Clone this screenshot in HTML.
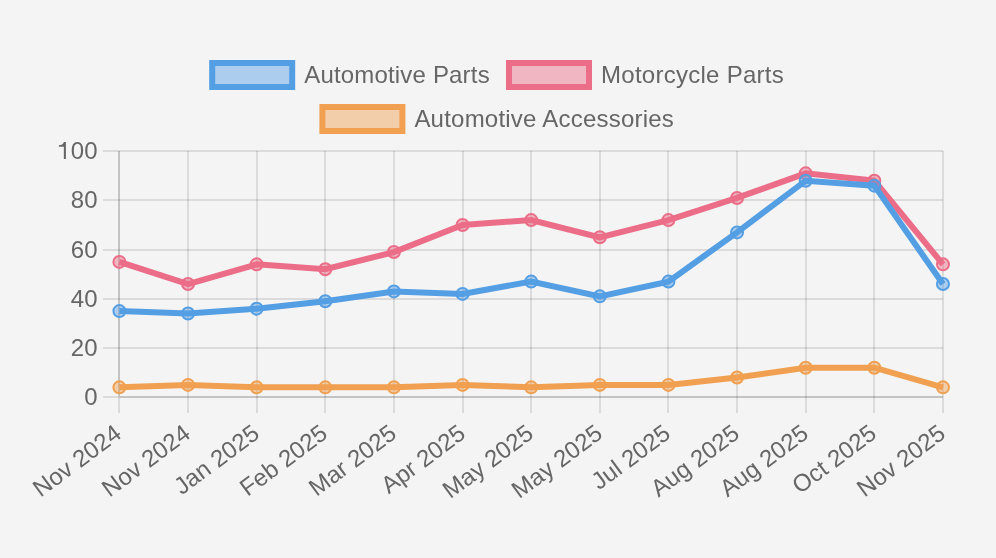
<!DOCTYPE html><html><head><meta charset="utf-8"><style>html,body{margin:0;padding:0;background:#f4f4f4;}svg{display:block;will-change:transform}text{font-family:"Liberation Sans",sans-serif;fill:#666;font-size:24px}</style></head><body>
<svg width="996" height="558" viewBox="0 0 996 558">
<rect width="996" height="558" fill="#f4f4f4"/>
<rect x="103" y="396" width="840" height="2" fill="rgba(0,0,0,0.1)"/>
<rect x="103" y="347" width="840" height="2" fill="rgba(0,0,0,0.1)"/>
<rect x="103" y="298" width="840" height="2" fill="rgba(0,0,0,0.1)"/>
<rect x="103" y="249" width="840" height="2" fill="rgba(0,0,0,0.1)"/>
<rect x="103" y="199" width="840" height="2" fill="rgba(0,0,0,0.1)"/>
<rect x="103" y="150" width="840" height="2" fill="rgba(0,0,0,0.1)"/>
<rect x="118" y="151" width="2" height="262" fill="rgba(0,0,0,0.1)"/>
<rect x="187" y="151" width="2" height="262" fill="rgba(0,0,0,0.1)"/>
<rect x="256" y="151" width="2" height="262" fill="rgba(0,0,0,0.1)"/>
<rect x="324" y="151" width="2" height="262" fill="rgba(0,0,0,0.1)"/>
<rect x="393" y="151" width="2" height="262" fill="rgba(0,0,0,0.1)"/>
<rect x="462" y="151" width="2" height="262" fill="rgba(0,0,0,0.1)"/>
<rect x="530" y="151" width="2" height="262" fill="rgba(0,0,0,0.1)"/>
<rect x="599" y="151" width="2" height="262" fill="rgba(0,0,0,0.1)"/>
<rect x="667" y="151" width="2" height="262" fill="rgba(0,0,0,0.1)"/>
<rect x="736" y="151" width="2" height="262" fill="rgba(0,0,0,0.1)"/>
<rect x="805" y="151" width="2" height="262" fill="rgba(0,0,0,0.1)"/>
<rect x="873" y="151" width="2" height="262" fill="rgba(0,0,0,0.1)"/>
<rect x="942" y="151" width="2" height="262" fill="rgba(0,0,0,0.1)"/>
<rect x="118" y="151" width="2" height="245" fill="rgba(0,0,0,0.1)"/>
<rect x="120" y="396" width="823" height="2" fill="rgba(0,0,0,0.1)"/>
<text x="97.5" y="404.60" text-anchor="end">0</text>
<text x="97.5" y="355.60" text-anchor="end">20</text>
<text x="97.5" y="306.60" text-anchor="end">40</text>
<text x="97.5" y="257.60" text-anchor="end">60</text>
<text x="97.5" y="207.60" text-anchor="end">80</text>
<text x="97.5" y="158.60" text-anchor="end">00</text>
<path d="M65.9 142 L65.9 158.9 L63.85 158.9 L63.85 146.7 L58.9 146.7 L58.9 145.2 C61.4 145.2 63.3 144.2 63.85 142 Z" fill="#666"/>
<text transform="translate(118.30 430.20) rotate(-36.5)" x="0" y="8" text-anchor="end">Nov 2024</text>
<text transform="translate(187.30 430.20) rotate(-36.5)" x="0" y="8" text-anchor="end">Nov 2024</text>
<text transform="translate(256.30 430.20) rotate(-36.5)" x="0" y="8" text-anchor="end">Jan 2025</text>
<text transform="translate(324.30 430.20) rotate(-36.5)" x="0" y="8" text-anchor="end">Feb 2025</text>
<text transform="translate(393.30 430.20) rotate(-36.5)" x="0" y="8" text-anchor="end">Mar 2025</text>
<text transform="translate(462.30 430.20) rotate(-36.5)" x="0" y="8" text-anchor="end">Apr 2025</text>
<text transform="translate(530.30 430.20) rotate(-36.5)" x="0" y="8" text-anchor="end">May 2025</text>
<text transform="translate(599.30 430.20) rotate(-36.5)" x="0" y="8" text-anchor="end">May 2025</text>
<text transform="translate(667.30 430.20) rotate(-36.5)" x="0" y="8" text-anchor="end">Jul 2025</text>
<text transform="translate(736.30 430.20) rotate(-36.5)" x="0" y="8" text-anchor="end">Aug 2025</text>
<text transform="translate(805.30 430.20) rotate(-36.5)" x="0" y="8" text-anchor="end">Aug 2025</text>
<text transform="translate(873.30 430.20) rotate(-36.5)" x="0" y="8" text-anchor="end">Oct 2025</text>
<text transform="translate(942.30 430.20) rotate(-36.5)" x="0" y="8" text-anchor="end">Nov 2025</text>
<polyline points="119.40,387.36 188.03,384.90 256.66,387.36 325.29,387.36 393.92,387.36 462.55,384.90 531.18,387.36 599.81,384.90 668.44,384.90 737.07,377.52 805.70,367.68 874.33,367.68 942.96,387.36" fill="none" stroke="rgb(240,160,80)" stroke-width="6" stroke-linejoin="miter"/>
<circle cx="119.40" cy="387.36" r="6" fill="rgba(240,160,80,0.45)" stroke="rgb(240,160,80)" stroke-width="2"/>
<circle cx="188.03" cy="384.90" r="6" fill="rgba(240,160,80,0.45)" stroke="rgb(240,160,80)" stroke-width="2"/>
<circle cx="256.66" cy="387.36" r="6" fill="rgba(240,160,80,0.45)" stroke="rgb(240,160,80)" stroke-width="2"/>
<circle cx="325.29" cy="387.36" r="6" fill="rgba(240,160,80,0.45)" stroke="rgb(240,160,80)" stroke-width="2"/>
<circle cx="393.92" cy="387.36" r="6" fill="rgba(240,160,80,0.45)" stroke="rgb(240,160,80)" stroke-width="2"/>
<circle cx="462.55" cy="384.90" r="6" fill="rgba(240,160,80,0.45)" stroke="rgb(240,160,80)" stroke-width="2"/>
<circle cx="531.18" cy="387.36" r="6" fill="rgba(240,160,80,0.45)" stroke="rgb(240,160,80)" stroke-width="2"/>
<circle cx="599.81" cy="384.90" r="6" fill="rgba(240,160,80,0.45)" stroke="rgb(240,160,80)" stroke-width="2"/>
<circle cx="668.44" cy="384.90" r="6" fill="rgba(240,160,80,0.45)" stroke="rgb(240,160,80)" stroke-width="2"/>
<circle cx="737.07" cy="377.52" r="6" fill="rgba(240,160,80,0.45)" stroke="rgb(240,160,80)" stroke-width="2"/>
<circle cx="805.70" cy="367.68" r="6" fill="rgba(240,160,80,0.45)" stroke="rgb(240,160,80)" stroke-width="2"/>
<circle cx="874.33" cy="367.68" r="6" fill="rgba(240,160,80,0.45)" stroke="rgb(240,160,80)" stroke-width="2"/>
<circle cx="942.96" cy="387.36" r="6" fill="rgba(240,160,80,0.45)" stroke="rgb(240,160,80)" stroke-width="2"/>
<polyline points="119.40,261.90 188.03,284.04 256.66,264.36 325.29,269.28 393.92,252.06 462.55,225.00 531.18,220.08 599.81,237.30 668.44,220.08 737.07,197.94 805.70,173.34 874.33,180.72 942.96,264.36" fill="none" stroke="rgb(235,109,135)" stroke-width="6" stroke-linejoin="miter"/>
<circle cx="119.40" cy="261.90" r="6" fill="rgba(235,109,135,0.45)" stroke="rgb(235,109,135)" stroke-width="2"/>
<circle cx="188.03" cy="284.04" r="6" fill="rgba(235,109,135,0.45)" stroke="rgb(235,109,135)" stroke-width="2"/>
<circle cx="256.66" cy="264.36" r="6" fill="rgba(235,109,135,0.45)" stroke="rgb(235,109,135)" stroke-width="2"/>
<circle cx="325.29" cy="269.28" r="6" fill="rgba(235,109,135,0.45)" stroke="rgb(235,109,135)" stroke-width="2"/>
<circle cx="393.92" cy="252.06" r="6" fill="rgba(235,109,135,0.45)" stroke="rgb(235,109,135)" stroke-width="2"/>
<circle cx="462.55" cy="225.00" r="6" fill="rgba(235,109,135,0.45)" stroke="rgb(235,109,135)" stroke-width="2"/>
<circle cx="531.18" cy="220.08" r="6" fill="rgba(235,109,135,0.45)" stroke="rgb(235,109,135)" stroke-width="2"/>
<circle cx="599.81" cy="237.30" r="6" fill="rgba(235,109,135,0.45)" stroke="rgb(235,109,135)" stroke-width="2"/>
<circle cx="668.44" cy="220.08" r="6" fill="rgba(235,109,135,0.45)" stroke="rgb(235,109,135)" stroke-width="2"/>
<circle cx="737.07" cy="197.94" r="6" fill="rgba(235,109,135,0.45)" stroke="rgb(235,109,135)" stroke-width="2"/>
<circle cx="805.70" cy="173.34" r="6" fill="rgba(235,109,135,0.45)" stroke="rgb(235,109,135)" stroke-width="2"/>
<circle cx="874.33" cy="180.72" r="6" fill="rgba(235,109,135,0.45)" stroke="rgb(235,109,135)" stroke-width="2"/>
<circle cx="942.96" cy="264.36" r="6" fill="rgba(235,109,135,0.45)" stroke="rgb(235,109,135)" stroke-width="2"/>
<polyline points="119.40,311.10 188.03,313.56 256.66,308.64 325.29,301.26 393.92,291.42 462.55,293.88 531.18,281.58 599.81,296.34 668.44,281.58 737.07,232.38 805.70,180.72 874.33,185.64 942.96,284.04" fill="none" stroke="rgb(84,158,228)" stroke-width="6" stroke-linejoin="miter"/>
<circle cx="119.40" cy="311.10" r="6" fill="rgba(84,158,228,0.45)" stroke="rgb(84,158,228)" stroke-width="2"/>
<circle cx="188.03" cy="313.56" r="6" fill="rgba(84,158,228,0.45)" stroke="rgb(84,158,228)" stroke-width="2"/>
<circle cx="256.66" cy="308.64" r="6" fill="rgba(84,158,228,0.45)" stroke="rgb(84,158,228)" stroke-width="2"/>
<circle cx="325.29" cy="301.26" r="6" fill="rgba(84,158,228,0.45)" stroke="rgb(84,158,228)" stroke-width="2"/>
<circle cx="393.92" cy="291.42" r="6" fill="rgba(84,158,228,0.45)" stroke="rgb(84,158,228)" stroke-width="2"/>
<circle cx="462.55" cy="293.88" r="6" fill="rgba(84,158,228,0.45)" stroke="rgb(84,158,228)" stroke-width="2"/>
<circle cx="531.18" cy="281.58" r="6" fill="rgba(84,158,228,0.45)" stroke="rgb(84,158,228)" stroke-width="2"/>
<circle cx="599.81" cy="296.34" r="6" fill="rgba(84,158,228,0.45)" stroke="rgb(84,158,228)" stroke-width="2"/>
<circle cx="668.44" cy="281.58" r="6" fill="rgba(84,158,228,0.45)" stroke="rgb(84,158,228)" stroke-width="2"/>
<circle cx="737.07" cy="232.38" r="6" fill="rgba(84,158,228,0.45)" stroke="rgb(84,158,228)" stroke-width="2"/>
<circle cx="805.70" cy="180.72" r="6" fill="rgba(84,158,228,0.45)" stroke="rgb(84,158,228)" stroke-width="2"/>
<circle cx="874.33" cy="185.64" r="6" fill="rgba(84,158,228,0.45)" stroke="rgb(84,158,228)" stroke-width="2"/>
<circle cx="942.96" cy="284.04" r="6" fill="rgba(84,158,228,0.45)" stroke="rgb(84,158,228)" stroke-width="2"/>
<rect x="212.2" y="63.0" width="80" height="24" fill="rgba(84,158,228,0.45)" stroke="rgb(84,158,228)" stroke-width="6"/>
<text x="304.2" y="82.6" style="letter-spacing:0.18px">Automotive Parts</text>
<rect x="509.0" y="63.0" width="80" height="24" fill="rgba(235,109,135,0.45)" stroke="rgb(235,109,135)" stroke-width="6"/>
<text x="601.0" y="82.6" style="letter-spacing:0.27px">Motorcycle Parts</text>
<rect x="322.4" y="107.0" width="80" height="24" fill="rgba(240,160,80,0.45)" stroke="rgb(240,160,80)" stroke-width="6"/>
<text x="414.4" y="126.6" style="letter-spacing:0.22px">Automotive Accessories</text>
</svg></body></html>
